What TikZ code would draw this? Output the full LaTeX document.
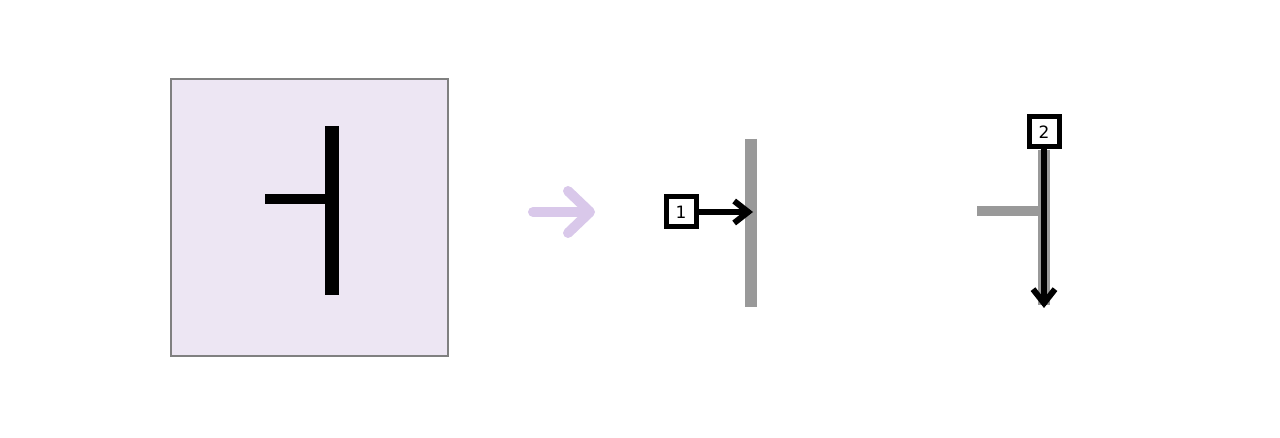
\documentclass[tikz,border=0pt]{standalone}
\usepackage{fontspec}
\setmainfont{DejaVu Sans}
\usetikzlibrary{arrows.meta}
\definecolor{lav}{HTML}{EDE6F3}
\definecolor{lavarrow}{HTML}{D9C8EA}
\definecolor{barg}{HTML}{999999}
\definecolor{boxg}{HTML}{808080}
\begin{document}
\begin{tikzpicture}[x=0.5pt,y=-0.5pt,
  numbox/.style={draw=black,fill=white,line width=2.5pt,minimum size=15pt,inner sep=0pt,font=\fontsize{8.5}{10}\selectfont},
  blackbar/.style={line width=7pt,black},
  blackbarh/.style={line width=5pt,black},
  graybar/.style={line width=6pt,barg},
  grayarm/.style={line width=5pt,barg},
  conn/.style={line width=3pt,black,-{Straight Barb[length=7pt,width=11pt,line width=3pt]}},
  bigarrow/.style={line width=5pt,lavarrow,line cap=round,-{Straight Barb[length=11pt,width=21pt,line width=5pt,round]}}]
\useasboundingbox (0,0) rectangle (1280,438);
% left panel
\node[draw=boxg,fill=lav,line width=1pt,minimum size=138.5pt,inner sep=0pt] (panel) at (309.5,217.5) {};
\draw[blackbar] (332,126) -- (332,295);
\draw[blackbarh] (265,199) -- (332,199);
% transition arrow
\coordinate (ta) at (533,212);
\coordinate (tb) at (595,212);
\draw[bigarrow] (ta) -- (tb);
% middle
\draw[graybar] (751,139) -- (751,307);
\node[numbox] (b1) at (681,212) {1};
\coordinate (t1) at (753,212);
\draw[conn] (b1.east) -- (t1);
% right
\draw[grayarm] (977,211) -- (1040,211);
\draw[graybar] (1044,150) -- (1044,305);
\node[numbox] (b2) at (1044,132) {2};
\coordinate (t2) at (1044,308);
\draw[conn] (b2.south) -- (t2);
\end{tikzpicture}
\end{document}
